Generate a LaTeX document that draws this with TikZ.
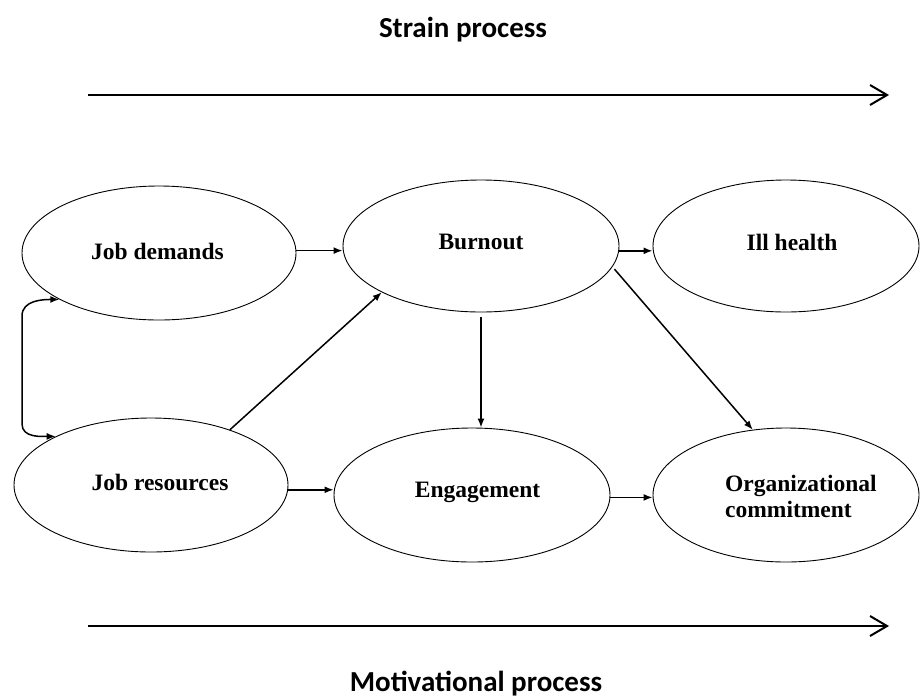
\documentclass[tikz,border=0pt]{standalone}
\usepackage{fontspec}
\setmainfont{Liberation Serif}
\newfontfamily\calfont{Carlito}
\usetikzlibrary{shapes.geometric,arrows.meta,calc}
\begin{document}
\begin{tikzpicture}[x=1pt,y=-1pt,
  oval/.style={draw,ellipse,line width=0.9pt,inner sep=0pt},
  lab/.style={font=\fontsize{23.5}{26}\selectfont\bfseries,anchor=base,inner sep=0pt},
  arr/.style={line width=1.5pt,-{Latex[length=9pt,width=7pt]}},
  biarr/.style={line width=1.5pt,{Latex[length=9pt,width=7pt]}-{Latex[length=9pt,width=7pt]}},
  proc/.style={line width=2pt,-{Straight Barb[length=17pt,width=20pt]}},
  ptext/.style={font=\calfont\fontsize{29}{32}\selectfont\bfseries,anchor=base,inner sep=0pt}]
\useasboundingbox (0,0) rectangle (920,697);
\fill[white] (0,0) rectangle (920,697);

% process labels and arrows
\node[ptext] (strain) at (463,37) {Strain process};
\node[ptext] (motiv) at (476,691) {Motivational process};
\coordinate (sa) at (88,95);
\coordinate (sb) at (889,95);
\coordinate (ma) at (88,626);
\coordinate (mb) at (889,626);
\draw[proc] (sa) -- (sb);
\draw[proc] (ma) -- (mb);

% ellipses
\node[oval,minimum width=274pt,minimum height=134pt] (jd) at (159,253) {};
\node[oval,minimum width=274pt,minimum height=134pt] (jr) at (151,485) {};
\node[oval,minimum width=276pt,minimum height=132pt] (bo) at (481,246) {};
\node[oval,minimum width=266pt,minimum height=132pt] (ih) at (786,246) {};
\node[oval,minimum width=276pt,minimum height=134pt] (en) at (472,495) {};
\node[oval,minimum width=266pt,minimum height=134pt] (oc) at (786,495) {};

% labels
\node[lab] (jdt) at (157.5,259) {Job demands};
\node[lab] (bot) at (481,249) {Burnout};
\node[lab] (iht) at (792,250) {Ill health};
\node[lab] (jrt) at (160,490) {Job resources};
\node[lab] (ent) at (477.5,497) {Engagement};
\node[lab,anchor=base west] (oct1) at (725,491) {Organizational};
\node[lab,anchor=base west] (oct2) at (725,517) {commitment};

% connectors
\draw[arr] (jd.1) -- (jd.1 -| bo.west);
\draw[arr] (bo.-2) -- (bo.-2 -| ih.west);
\draw[arr] (jr.-2) -- (jr.-2 -| en.west);
\draw[arr] (en.-1) -- (en.-1 -| oc.west);
\draw[arr] (jr.35) -- (bo.205);
\draw[arr,shorten <=5pt] (bo.south) -- (bo.south |- en.north);
\draw[arr,shorten <=3pt] (bo.-9) -- (oc.117);

\coordinate (lt) at (22,316);
\coordinate (lb) at (22,424);
\draw[biarr] (jd.205) to[out=180,in=90] (lt) -- (lb) to[out=-90,in=180] (jr.153);
\end{tikzpicture}
\end{document}
